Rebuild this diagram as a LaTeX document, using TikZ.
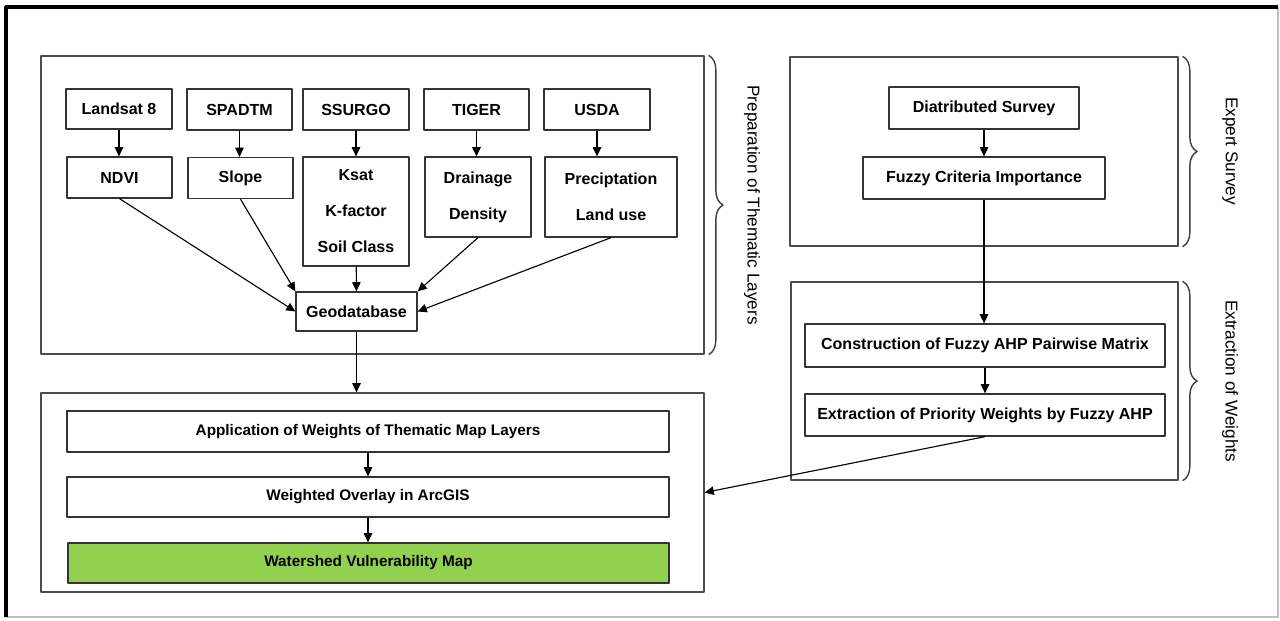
\documentclass[tikz,border=0pt]{standalone}
\usepackage{fontspec}
\setmainfont{Liberation Sans}
\usetikzlibrary{arrows.meta,decorations.pathreplacing}
\begin{document}
\begin{tikzpicture}[x=0.025cm, y=-0.025cm, font=\fontsize{11.4}{13}\selectfont\bfseries, line join=round, >={Triangle[length=6.5pt,width=6pt]},
    boxsize/.style 2 args={minimum width=#1*0.025cm, minimum height=#2*0.025cm},
    box/.style={draw=black!80, line width=0.9pt, fill=white, inner sep=0pt, align=center},
    stack/.style={box, font=\fontsize{11.4}{25.6}\selectfont\bfseries},
    wide/.style={box, font=\fontsize{10.9}{13}\selectfont\bfseries},
    group/.style={draw=black!70, line width=0.9pt, inner sep=0pt},
    brc/.style={draw=black!75, line width=1pt, decorate, decoration={brace,amplitude=0.36cm}},
    side/.style={font=\fontsize{12.2}{14}\selectfont, rotate=-90},
    link/.style={->, line width=0.8pt}]
    \useasboundingbox (0,0) rectangle (1280,620);
    \fill[white] (0,0) rectangle (1280,620);
    \draw[black!25, line width=0.8pt] (1278,7) -- (1278,617) -- (6,617);
    \draw[line width=2.2pt] (6,617) -- (6,7) -- (1278,7);
    % group frames
    \node[group, boxsize={663}{298}] (prep) at (372.5,205) {};
    \node[group, boxsize={388}{189}] (survey) at (984,151.5) {};
    \node[group, boxsize={387}{198}] (extract) at (984.5,381) {};
    \node[group, boxsize={663}{199}] (mapping) at (372.5,492.5) {};
    \draw[brc] ([xshift=0.1cm]prep.north east) -- ([xshift=0.1cm]prep.south east);
    \draw[brc] ([xshift=0.1cm]survey.north east) -- ([xshift=0.1cm]survey.south east);
    \draw[brc] ([xshift=0.1cm]extract.north east) -- ([xshift=0.1cm]extract.south east);
    \node[side] (prepname) at (752,205) {Preparation of Thematic Layers};
    \node[side] (surveyname) at (1230,151) {Expert Survey};
    \node[side] (extractname) at (1230,381) {Extraction of Weights};
    % data sources
    \node[box, boxsize={106}{40}] (landsat) at (119,109) {Landsat 8};
    \node[box, boxsize={105}{41}] (spadtm) at (239.5,109.5) {SPADTM};
    \node[box, boxsize={106}{41}] (ssurgo) at (356,109.5) {SSURGO};
    \node[box, boxsize={105}{41}] (tiger) at (476.5,109.5) {TIGER};
    \node[box, boxsize={106}{41}] (usda) at (597,109.5) {USDA};
    % layers
    \node[box, boxsize={105}{41}] (ndvi) at (119.5,177.5) {NDVI};
    \node[box, boxsize={105}{41}] (slope) at (240.5,178) {Slope};
    \node[stack, boxsize={106}{109}] (ksat) at (356,211.5) {Ksat\\K-factor\\Soil Class};
    \node[stack, boxsize={106}{80}] (drainage) at (478,197) {Drainage\\Density};
    \node[stack, boxsize={132}{80}] (precip) at (611,197) {Preciptation\\Land use};
    \node[box, boxsize={121}{39}] (geo) at (356.5,311.5) {Geodatabase};
    \foreach \src/\dst in {landsat/ndvi, spadtm/slope, ssurgo/ksat, tiger/drainage, usda/precip}
        \draw[link] (\src) -- (\src |- \dst.north);
    \draw[link] (ndvi.south) -- (geo.west);
    \draw[link] (slope.south) -- (geo.north west);
    \draw[link] (ksat) -- (geo);
    \draw[link] (drainage.south) -- (geo.north east);
    \draw[link] (precip.south) -- (geo.east);
    \draw[link] (geo) -- (geo |- mapping.north);
    % expert survey and weights
    \node[box, boxsize={190}{42}] (distributed) at (984,108) {Diatributed Survey};
    \node[box, boxsize={242}{42}] (fuzzy) at (984,178) {Fuzzy Criteria Importance};
    \node[box, boxsize={360}{43}] (pairwise) at (985,345.5) {Construction of Fuzzy AHP Pairwise Matrix};
    \node[box, boxsize={360}{42}] (weights) at (985,415) {Extraction of Priority Weights by Fuzzy AHP};
    \draw[link] (distributed) -- (distributed |- fuzzy.north);
    \draw[link] (fuzzy) -- (fuzzy |- pairwise.north);
    \draw[link] (pairwise) -- (pairwise |- weights.north);
    \draw[link] (weights.south) -- (mapping.east);
    % weighted overlay
    \node[wide, boxsize={602}{41}] (apply) at (368,431.5) {Application of Weights of Thematic Map Layers};
    \node[wide, boxsize={602}{40}] (overlay) at (368,497) {Weighted Overlay in ArcGIS};
    \node[wide, boxsize={601}{40}, fill={rgb,255:red,146;green,208;blue,80}] (vulnmap) at (368.5,563) {Watershed Vulnerability Map};
    \draw[link] (apply) -- (apply |- overlay.north);
    \draw[link] (overlay) -- (overlay |- vulnmap.north);
\end{tikzpicture}
\end{document}
